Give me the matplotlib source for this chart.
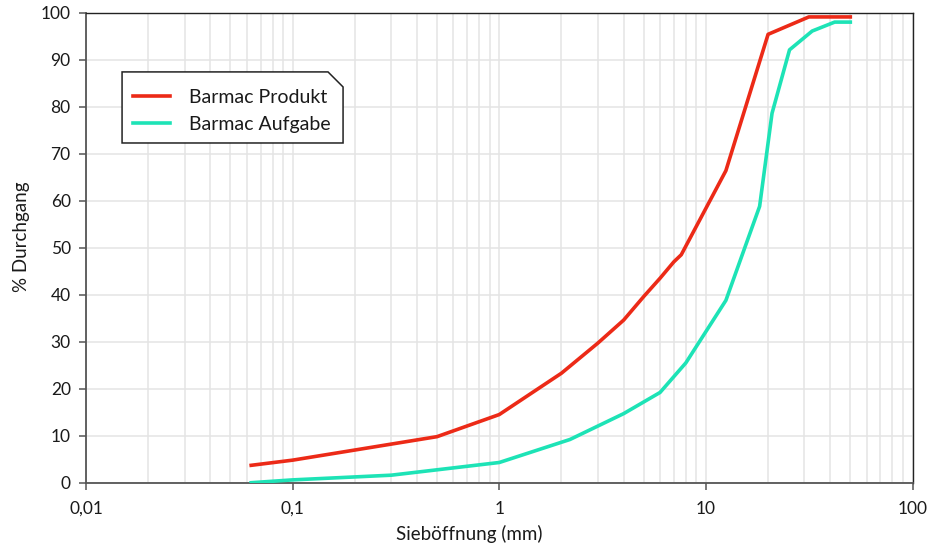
import numpy as np
import matplotlib.pyplot as plt
from matplotlib.patches import Polygon


# -----------------------------
# Data
# -----------------------------
produkt_mm = [0.063, 0.1, 0.5, 1.0, 2.0, 3.0, 4.0, 5.0, 6.0, 7.0, 7.6, 12.5, 20.0, 31.5, 50.0]
produkt_pct = [3.7, 4.8, 9.8, 14.5, 23.3, 29.7, 34.6, 39.6, 43.5, 47.0, 48.5, 66.4, 95.4, 99.1, 99.1]

aufgabe_mm = [0.063, 0.1, 0.3, 1.0, 2.2, 4.0, 6.0, 8.0, 12.5, 18.2, 20.9, 25.4, 32.7, 42.0, 50.0]
aufgabe_pct = [0.0, 0.6, 1.6, 4.3, 9.2, 14.7, 19.2, 25.5, 38.8, 58.8, 78.6, 92.1, 96.1, 98.0, 98.0]

x_ticks = [0.01, 0.1, 1, 10, 100]
x_ticklabels = ["0,01", "0,1", "1", "10", "100"]
y_ticks = list(range(0, 101, 10))

labels = ["Barmac Produkt", "Barmac Aufgabe"]
colors = ["#ec2a17", "#1de3b6"]


# -----------------------------
# Figure
# -----------------------------
plt.rcParams["font.family"] = ["Lato", "DejaVu Sans"]

fig = plt.figure(figsize=(9.28, 5.45), dpi=100)
ax = fig.add_axes([0.0927, 0.1143, 0.8906, 0.8624])

ax.plot(produkt_mm, produkt_pct, color=colors[0], lw=2.6,
        solid_joinstyle="round", label=labels[0], zorder=3)
ax.plot(aufgabe_mm, aufgabe_pct, color=colors[1], lw=2.6,
        solid_joinstyle="round", label=labels[1], zorder=3)

ax.set_xscale("log")
ax.set_xlim(0.01, 100)
ax.set_ylim(0, 100)

ax.set_xticks(x_ticks)
ax.set_xticklabels(x_ticklabels)
ax.set_yticks(y_ticks)

ax.grid(True, which="both", color="#e4e4e4", lw=1.1)
ax.set_axisbelow(True)

ax.tick_params(axis="both", which="major", labelsize=12.5,
               colors="#555555", labelcolor="#1a1a1a",
               length=5, width=1.1, direction="out")
ax.tick_params(axis="x", which="minor", length=0)
ax.tick_params(axis="y", which="major", pad=6)
ax.tick_params(axis="x", which="major", pad=8)

for side in ["left", "bottom"]:
    ax.spines[side].set_color("#555555")
    ax.spines[side].set_linewidth(1.3)
for side in ["top", "right"]:
    ax.spines[side].set_color("#222222")
    ax.spines[side].set_linewidth(1.0)

ax.set_xlabel("Sieböffnung (mm)", fontsize=13.5, color="#1a1a1a")
ax.xaxis.set_label_coords(0.464, -0.09)
ax.set_ylabel("% Durchgang", fontsize=13.5, color="#1a1a1a")
ax.yaxis.set_label_coords(-0.068, 0.523)


# -----------------------------
# Legend with clipped corner
# -----------------------------
box = Polygon(
    [(0.0436, 0.7228), (0.311, 0.7228), (0.311, 0.842),
     (0.2928, 0.874), (0.0436, 0.874)],
    closed=True, transform=ax.transAxes,
    facecolor="white", edgecolor="#222222", lw=1.1, zorder=4
)
ax.add_patch(box)

leg = ax.legend(
    loc="upper left", bbox_to_anchor=(0.057, 0.838),
    frameon=False, fontsize=14, borderpad=0, borderaxespad=0,
    handlelength=1.9, handletextpad=0.95, labelspacing=0.5
)
leg.set_zorder(5)
for t in leg.get_texts():
    t.set_color("#1a1a1a")

fig.savefig("out.png", dpi=100)
plt.close(fig)
